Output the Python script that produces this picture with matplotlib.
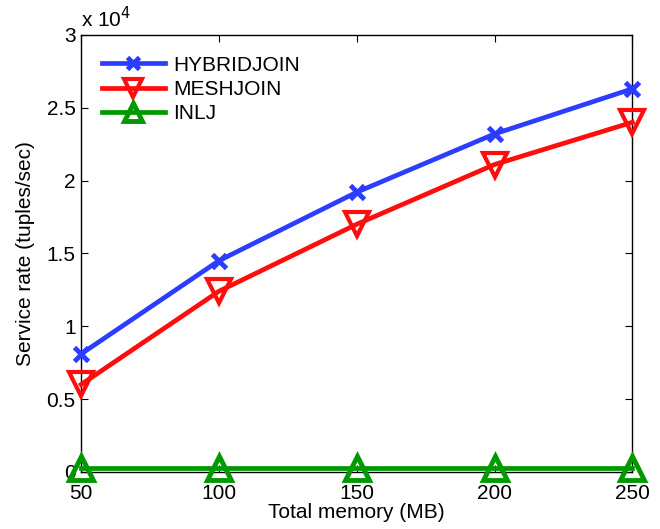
import matplotlib
matplotlib.use("Agg")
import matplotlib.pyplot as plt
import numpy as np

memory = [50, 100, 150, 200, 250]
hybridjoin = [8100, 14500, 19200, 23200, 26300]
meshjoin = [6000, 12400, 17000, 21100, 24000]
inlj = [250, 250, 250, 250, 250]

ytick_vals = [0, 5000, 10000, 15000, 20000, 25000, 30000]
ytick_text = ['0', '0.5', '1', '1.5', '2', '2.5', '3']

plt.rcParams['font.family'] = ['Liberation Sans', 'DejaVu Sans']
plt.rcParams['font.size'] = 15

fig = plt.figure(figsize=(6.6, 5.29), dpi=100)
ax = fig.add_axes([0.123, 0.108, 0.835, 0.826])

ax.plot(memory, hybridjoin, color='#2b3dff', lw=3.4, marker='x', ms=10, mew=3.5,
        label='HYBRIDJOIN', clip_on=False, zorder=3)
ax.plot(memory, meshjoin, color='#ff0d0d', lw=3.4, marker='v', ms=17, mew=3,
        mfc='none', label='MESHJOIN', clip_on=False, zorder=3)
ax.plot(memory, inlj, color='#009900', lw=3.4, marker='^', ms=17, mew=3.5,
        mfc='none', label='INLJ', clip_on=False, zorder=3)

ax.set_xlim(50, 250)
ax.set_ylim(0, 30000)
ax.set_xticks(memory)
ax.set_yticks(ytick_vals)
ax.set_yticklabels(ytick_text)
ax.tick_params(direction='in', top=True, right=True, length=5, labelsize=15)
ax.tick_params(axis='x', pad=9)
ax.tick_params(axis='y', pad=4)
for s in ax.spines.values():
    s.set_linewidth(1.0)

ax.set_xlabel('Total memory (MB)', fontsize=15, labelpad=0)
ax.set_ylabel('Service rate (tuples/sec)', fontsize=15, labelpad=8)
ax.text(0.0, 1.008, r'x 10$^4$', transform=ax.transAxes, fontsize=15,
        ha='left', va='bottom')

leg = ax.legend(loc='upper left', frameon=False, fontsize=15, handlelength=3.0,
                borderaxespad=0.6, labelspacing=0.25, handletextpad=0.4,
                markerscale=0.8)

fig.savefig('out.png', dpi=100)
